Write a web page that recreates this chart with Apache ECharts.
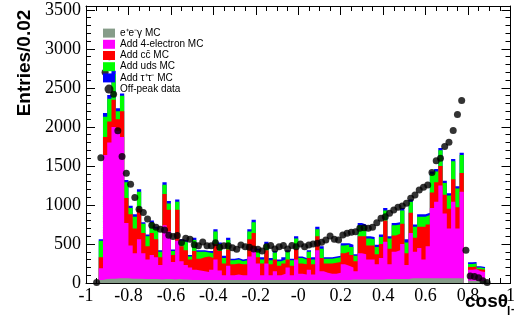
<!DOCTYPE html>
<html>
<head>
<meta charset="utf-8">
<script src="https://cdn.jsdelivr.net/npm/echarts@6/dist/echarts.min.js"></script>
<style>
  html, body { margin: 0; padding: 0; background: #fff; }
  #chart { width: 518px; height: 324px; }
</style>
</head>
<body>
<div id="chart"></div>
<script>
// cos(theta) histogram, 100 bins of width 0.02 between -1 and 1
const binLow = -1;
const binWidth = 0.02;

// Cumulative MC levels per bin (each level adds one sample on top of the previous)
const eegLevel = [0,0,0,40,50,55,55,60,60,60,55,55,55,50,50,50,50,45,50,50,45,50,45,45,40,40,40,40,40,40,40,40,40,40,40,40,40,40,40,40,40,40,40,40,40,40,40,40,40,40,40,40,40,40,40,40,40,40,40,40,40,40,45,45,45,45,45,45,45,45,50,50,50,50,50,50,60,60,60,60,60,60,60,60,60,60,60,60,60,0,30,30,25,25,0,0,0,0,0,0];
const plus4eLevel = [0,0,0,190,1640,1800,2000,1950,1870,770,480,380,560,380,300,360,330,230,740,660,270,540,280,230,200,170,160,150,140,170,300,160,100,220,100,110,100,100,340,440,250,100,250,100,150,100,120,200,100,300,120,110,170,110,420,150,130,120,120,130,240,220,200,150,380,370,300,300,240,320,530,240,400,420,500,230,640,400,450,300,470,960,1040,1250,890,700,1040,700,1170,0,170,175,150,140,0,0,0,0,0,0];
const plusCcLevel = [0,0,0,330,1870,2070,2350,2100,2200,1090,880,700,950,640,470,640,560,330,1140,940,360,940,470,420,300,410,310,330,340,320,500,410,250,430,240,250,240,240,560,640,330,250,420,240,300,220,250,300,220,440,250,240,320,240,600,320,250,250,260,270,380,400,360,280,600,600,480,480,370,500,800,440,610,630,760,380,900,580,720,720,750,1160,1290,1500,1130,950,1330,970,1410,0,205,210,175,170,0,0,0,0,0,0];
const plusUdsLevel = [0,0,0,540,2130,2360,2680,2200,2400,1290,960,850,1170,760,600,775,700,400,1260,1020,410,1040,540,520,340,550,400,400,390,380,660,500,320,550,290,300,280,290,660,780,420,300,500,290,390,280,300,400,290,570,320,300,400,300,690,440,310,310,320,330,480,490,460,350,740,720,570,560,460,590,930,570,740,750,930,520,1040,720,850,850,870,1400,1430,1700,1280,1120,1560,1210,1640,0,245,250,200,190,0,0,0,0,0,0];
const plusTauLevel = [0,0,0,560,2180,2410,2720,2240,2430,1320,990,880,1200,780,620,800,720,420,1290,1050,430,1070,560,540,360,580,420,420,410,410,690,520,350,580,310,320,300,310,690,810,440,330,530,320,410,300,330,420,310,600,340,320,420,330,720,470,330,330,340,350,510,510,490,370,770,750,600,590,490,620,960,600,770,780,960,560,1070,750,880,880,900,1430,1460,1730,1310,1150,1590,1240,1670,0,265,270,215,205,0,0,0,0,0,0];

// Off-peak data entries per bin (null: no point drawn)
const offPeakData = [null,null,5,1606,2700,2900,2420,1950,1620,1405,1265,1095,945,905,820,740,715,688,680,612,595,610,520,575,560,490,478,525,478,478,517,457,478,478,453,432,487,466,457,436,432,410,466,479,436,466,479,436,479,466,500,466,487,500,509,521,551,603,560,551,615,637,650,658,701,709,701,714,773,829,850,893,936,970,987,1021,1085,1128,1192,1226,1256,1415,1568,1598,1748,1803,1953,2160,2338,420,90,82,68,28,5,null,null,null,null,null];

const xTickLabels = ['-1','-0.8','-0.6','-0.4','-0.2','-0','0.2','0.4','0.6','0.8','1'];
const seriesNames = ['e\u207Ae\u207B\u03B3 MC','Add 4-electron MC','Add c\u0063\u0304 MC','Add uds MC','Add \u03C4\u207A\u03C4\u207B MC','Off-peak data'];
const seriesColors = ['#869c89','#ff00ff','#ff0000','#00ff00','#0000ff','#000000'];

// Step outline of a histogram: one point per bin edge
function stepPoints(levels) {
  const pts = levels.map((v, i) => [binLow + i * binWidth, v]);
  pts.push([binLow + levels.length * binWidth, 0]);
  return pts;
}

function histSeries(name, levels, color) {
  return {
    type: 'line',
    name: name,
    step: 'end',
    data: stepPoints(levels),
    symbol: 'none',
    showSymbol: false,
    color: color,
    lineStyle: { width: 0, opacity: 0 },
    areaStyle: { color: color, opacity: 1 },
    itemStyle: { color: color },
    animation: false,
    silent: true
  };
}

const dataPoints = [];
offPeakData.forEach((v, i) => {
  if (v !== null) dataPoints.push([binLow + (i + 0.5) * binWidth, v]);
});

const tickStyle = { color: '#000', width: 1 };
const fontNum = '"Liberation Serif", "Times New Roman", serif';

function xAxisDef(pos) {
  return {
    type: 'value', min: -1, max: 1, interval: 0.2, position: pos,
    axisLine: { show: true, onZero: false, lineStyle: tickStyle },
    axisTick: { show: true, inside: true, length: 9, lineStyle: tickStyle },
    minorTick: { show: true, splitNumber: 4, length: 5, lineStyle: tickStyle },
    splitLine: { show: false },
    axisLabel: {
      show: pos === 'bottom', margin: 4, color: '#000',
      fontFamily: fontNum, fontSize: 18,
      formatter: v => xTickLabels[Math.round((v + 1) / 0.2)]
    }
  };
}

function yAxisDef(pos, step, len, labels) {
  return {
    type: 'value', min: 0, max: 3550, interval: step, position: pos,
    axisLine: { show: labels, onZero: false, lineStyle: tickStyle },
    axisTick: { show: true, inside: true, length: len, lineStyle: tickStyle },
    splitLine: { show: false },
    axisLabel: {
      show: labels && pos === 'left', margin: 5, color: '#000',
      fontFamily: fontNum, fontSize: 18,
      showMaxLabel: false,
      formatter: v => (v % 500 === 0 ? String(v) : '')
    }
  };
}

const chart = echarts.init(document.getElementById('chart'), null, { renderer: 'canvas' });
chart.setOption({
  animation: false,
  backgroundColor: '#ffffff',
  grid: { left: 86, right: 3, top: 6, bottom: 41, containLabel: false },
  xAxis: [xAxisDef('bottom'), xAxisDef('top')],
  yAxis: [
    yAxisDef('left', 500, 9, true),
    yAxisDef('left', 100, 5, false),
    yAxisDef('right', 500, 9, true),
    yAxisDef('right', 100, 5, false)
  ],
  legend: {
    orient: 'vertical', left: 103, top: 27.5, padding: 0,
    itemWidth: 12, itemHeight: 9, itemGap: 0,
    textStyle: { fontFamily: '"Liberation Sans", Arial, sans-serif', fontSize: 10, color: '#000', lineHeight: 11.2 },
    selectedMode: false,
    data: [
      { name: seriesNames[0], icon: 'rect' },
      { name: seriesNames[1], icon: 'rect' },
      { name: seriesNames[2], icon: 'rect' },
      { name: seriesNames[3], icon: 'rect' },
      { name: seriesNames[4], icon: 'rect' },
      { name: seriesNames[5], icon: 'circle' }
    ]
  },
  series: [
    histSeries(seriesNames[4], plusTauLevel, seriesColors[4]),
    histSeries(seriesNames[3], plusUdsLevel, seriesColors[3]),
    histSeries(seriesNames[2], plusCcLevel, seriesColors[2]),
    histSeries(seriesNames[1], plus4eLevel, seriesColors[1]),
    histSeries(seriesNames[0], eegLevel, seriesColors[0]),
    {
      type: 'scatter', name: seriesNames[5], data: dataPoints,
      symbol: 'circle', symbolSize: 7,
      itemStyle: { color: '#000' }, z: 3, animation: false, silent: true
    }
  ],
  graphic: [
    {
      type: 'text', x: 25, y: 63, rotation: Math.PI / 2,
      style: { text: 'Entries/0.02', font: 'bold 19px "Liberation Sans", Arial, sans-serif', fill: '#000', align: 'center', verticalAlign: 'middle' }
    },
    {
      type: 'text', x: 465, y: 302,
      style: { text: 'cos\u03B8', font: 'bold 19px "Liberation Sans", Arial, sans-serif', fill: '#000', align: 'left', verticalAlign: 'middle' }
    },
    {
      type: 'text', x: 507, y: 312,
      style: { text: 'l', font: 'bold 12px "Liberation Sans", Arial, sans-serif', fill: '#000', align: 'left', verticalAlign: 'middle' }
    },
    {
      type: 'text', x: 511, y: 309,
      style: { text: '-', font: 'bold 10px "Liberation Sans", Arial, sans-serif', fill: '#000', align: 'left', verticalAlign: 'middle' }
    }
  ]
});
</script>
</body>
</html>
